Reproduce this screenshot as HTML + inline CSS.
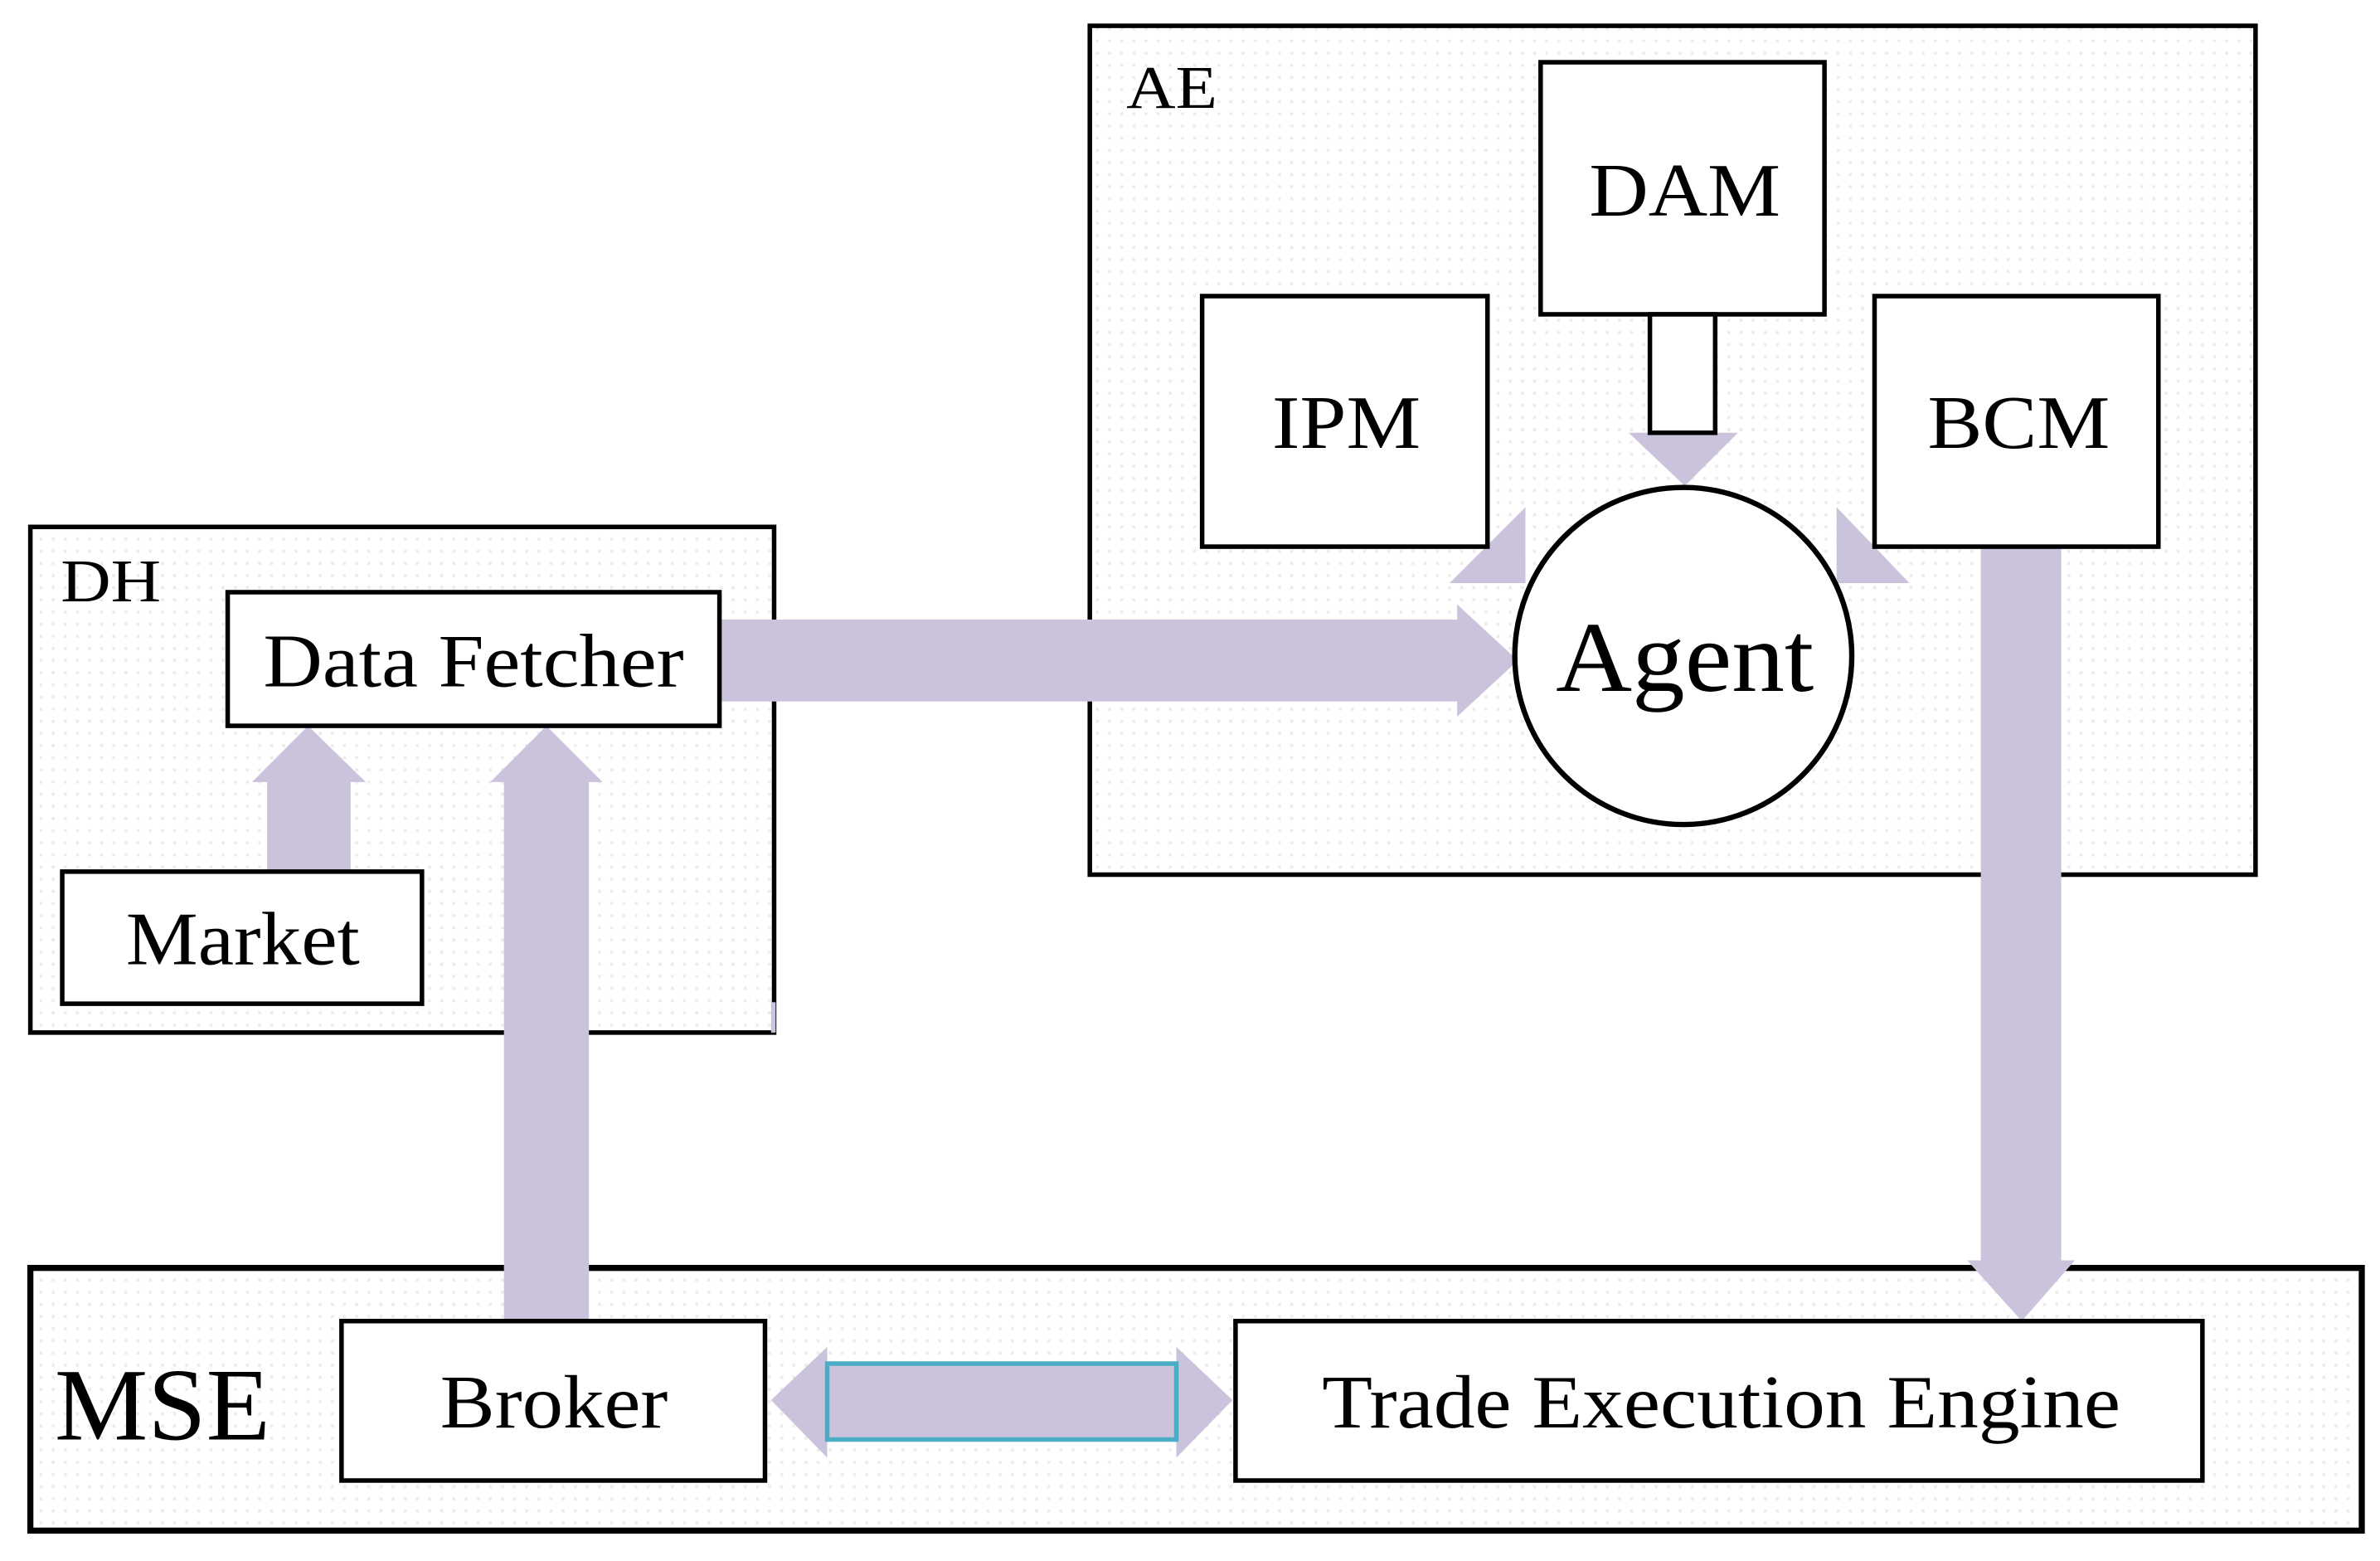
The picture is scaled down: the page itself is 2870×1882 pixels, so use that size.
<!DOCTYPE html>
<html><head><meta charset="utf-8"><style>html,body{margin:0;padding:0;background:#fff}svg{display:block}</style></head>
<body>
<svg width="2870" height="1882" viewBox="0 0 1568 1028" preserveAspectRatio="none" xmlns="http://www.w3.org/2000/svg" font-family="Liberation Serif, serif">
<defs>
<pattern id="dots" width="8" height="8" patternUnits="userSpaceOnUse">
<rect width="8" height="8" fill="#fff"/><rect x="2" y="2" width="2" height="2" fill="#ececec"/>
</pattern>
</defs>
<!-- containers -->
<rect x="20" y="347" width="490" height="333" fill="url(#dots)" stroke="#000" stroke-width="3"/>
<rect x="718" y="17" width="768" height="559" fill="url(#dots)" stroke="#000" stroke-width="3"/>
<rect x="20" y="835" width="1536" height="173" fill="url(#dots)" stroke="#000" stroke-width="4"/>
<text x="40" y="396" font-size="40" textLength="66" lengthAdjust="spacingAndGlyphs">DH</text>
<text x="742" y="71" font-size="40" textLength="60" lengthAdjust="spacingAndGlyphs">AE</text>
<text x="36" y="948" font-size="68" textLength="142" lengthAdjust="spacingAndGlyphs">MSE</text>

<!-- purple arrows -->
<g fill="#cbc3db">
<rect x="508" y="660" width="3" height="20"/>
<polygon points="176,575 231,575 231,515 241,515 203,478 166,515 176,515"/>
<polygon points="332,870 388,870 388,515 397,515 360,478 323,515 332,515"/>
<polygon points="474,408 960,408 960,398 1000,435 960,472 960,462 474,462"/>
<polygon points="1073,285 1145,285 1110,320"/>
<polygon points="955,384 1005,334 1005,384"/>
<polygon points="1210,334 1210,384 1258,384"/>
<polygon points="1305,360 1358,360 1358,830 1367,830 1332,870 1296,830 1305,830"/>
<polygon points="508,922 545,887 545,960"/>
<polygon points="812,922 775,887 775,960"/>
</g>
<rect x="545" y="898" width="230" height="50" fill="#cbc3db" stroke="#4bacc6" stroke-width="3"/>

<!-- nodes -->
<g fill="#fff" stroke="#000" stroke-width="3">
<rect x="150" y="390" width="324" height="88"/>
<rect x="41" y="574" width="237" height="87"/>
<rect x="1015" y="41" width="187" height="166"/>
<rect x="1087" y="207" width="43" height="78"/>
<rect x="792" y="195" width="188" height="165"/>
<rect x="1235" y="195" width="187" height="165"/>
<circle cx="1109" cy="432" r="111" stroke-width="3.5"/>
<rect x="225" y="870" width="279" height="105"/>
<rect x="814" y="870" width="637" height="105"/>
</g>
<g font-size="50" text-anchor="middle" fill="#000">
<text x="312" y="452" textLength="277" lengthAdjust="spacingAndGlyphs">Data Fetcher</text>
<text x="160" y="635" textLength="154" lengthAdjust="spacingAndGlyphs">Market</text>
<text x="1110" y="142" textLength="126" lengthAdjust="spacingAndGlyphs">DAM</text>
<text x="887" y="295" textLength="98" lengthAdjust="spacingAndGlyphs">IPM</text>
<text x="1330" y="295" textLength="120" lengthAdjust="spacingAndGlyphs">BCM</text>
<text x="1110" y="455" font-size="66" textLength="170" lengthAdjust="spacingAndGlyphs">Agent</text>
<text x="365" y="940" textLength="150" lengthAdjust="spacingAndGlyphs">Broker</text>
<text x="1134" y="940" textLength="526" lengthAdjust="spacingAndGlyphs">Trade Execution Engine</text>
</g>
</svg>
</body></html>
